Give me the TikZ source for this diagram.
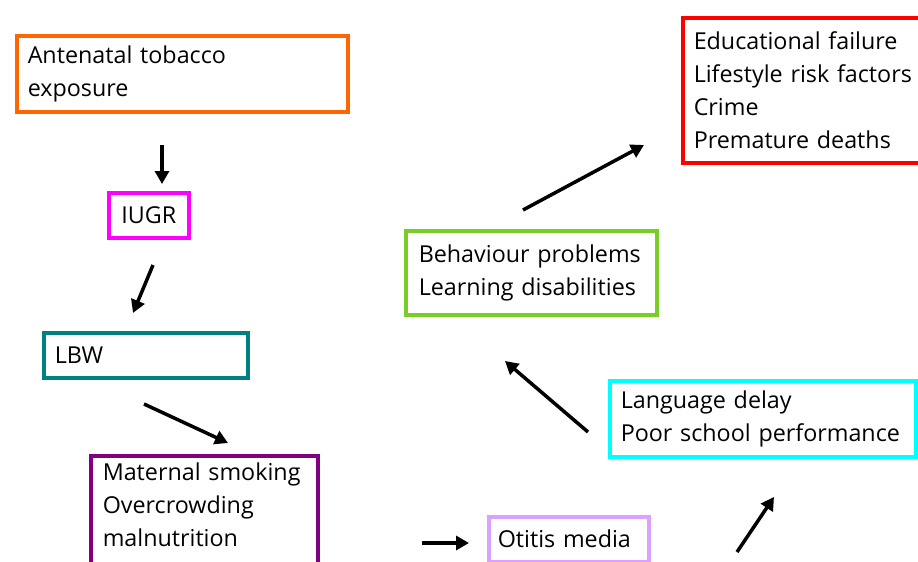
\documentclass[tikz,border=0pt]{standalone}
\usepackage{fontspec}
\setmainfont{Open Sans}
\usetikzlibrary{arrows.meta}
\definecolor{cOrange}{RGB}{255,102,0}
\definecolor{cMagenta}{RGB}{255,0,255}
\definecolor{cTeal}{RGB}{0,128,128}
\definecolor{cPurple}{RGB}{128,0,128}
\definecolor{cLilac}{RGB}{220,160,255}
\definecolor{cCyan}{RGB}{0,255,255}
\definecolor{cGreen}{RGB}{122,204,38}
\definecolor{cRed}{RGB}{255,0,0}
\begin{document}
\begin{tikzpicture}[x=1pt,y=-1pt,
  box/.style={draw=#1, line width=3.5pt, anchor=north west, align=left,
    inner ysep=0pt, font=\fontsize{23.3}{33}\selectfont},
  conn/.style={line width=3.5pt, -{Triangle[length=13pt,width=14pt]}}]
\useasboundingbox (0,0) rectangle (918,562);
\clip (0,0) rectangle (918,562);
% boxes
\node[box=cOrange, inner xsep=11pt, text width=309pt, minimum height=76pt] (ante) at (15,34)
  {Antenatal tobacco\\exposure};
\node[box=cMagenta, align=center, inner xsep=0pt, text width=80pt, minimum height=45pt] (iugr) at (107,191)
  {IUGR};
\node[box=cTeal, inner xsep=11pt, text width=182pt, minimum height=45pt] (lbw) at (42,331)
  {LBW};
\node[box=cPurple, inner xsep=12pt, inner ysep=7pt, text width=203pt] (mat) at (89,454)
  {Maternal smoking\\Overcrowding\\malnutrition\rule[-40pt]{0pt}{40pt}};
\node[box=cLilac, inner xsep=9pt, text width=142pt, minimum height=45pt] (oti) at (487,515)
  {Otitis media};
\node[box=cCyan, inner xsep=11pt, text width=284pt, minimum height=76pt] (lang) at (608,379)
  {Language delay\\Poor school performance};
\node[box=cGreen, inner xsep=13pt, text width=225pt, minimum height=84pt] (beh) at (404,229)
  {Behaviour problems\\Learning disabilities};
\node[box=cRed, inner xsep=11pt, text width=260pt, minimum height=145pt] (edu) at (681,16)
  {Educational failure\\Lifestyle risk factors\\Crime\\Premature deaths};
% arrow ends
\coordinate (a1s) at (162,145); \coordinate (a1e) at (162,184);
\coordinate (a2s) at (153,265); \coordinate (a2e) at (133,313);
\coordinate (a3s) at (144,404); \coordinate (a3e) at (228,443);
\coordinate (a4s) at (422,543); \coordinate (a4e) at (469,543);
\coordinate (a5s) at (737,552); \coordinate (a5e) at (774,497);
\coordinate (a6s) at (588,432); \coordinate (a6e) at (505,361);
\coordinate (a7s) at (523,210); \coordinate (a7e) at (644,145);
\draw[conn] (a1s) -- (a1e);
\draw[conn] (a2s) -- (a2e);
\draw[conn] (a3s) -- (a3e);
\draw[conn] (a4s) -- (a4e);
\draw[conn] (a5s) -- (a5e);
\draw[conn] (a6s) -- (a6e);
\draw[conn] (a7s) -- (a7e);
\end{tikzpicture}
\end{document}
